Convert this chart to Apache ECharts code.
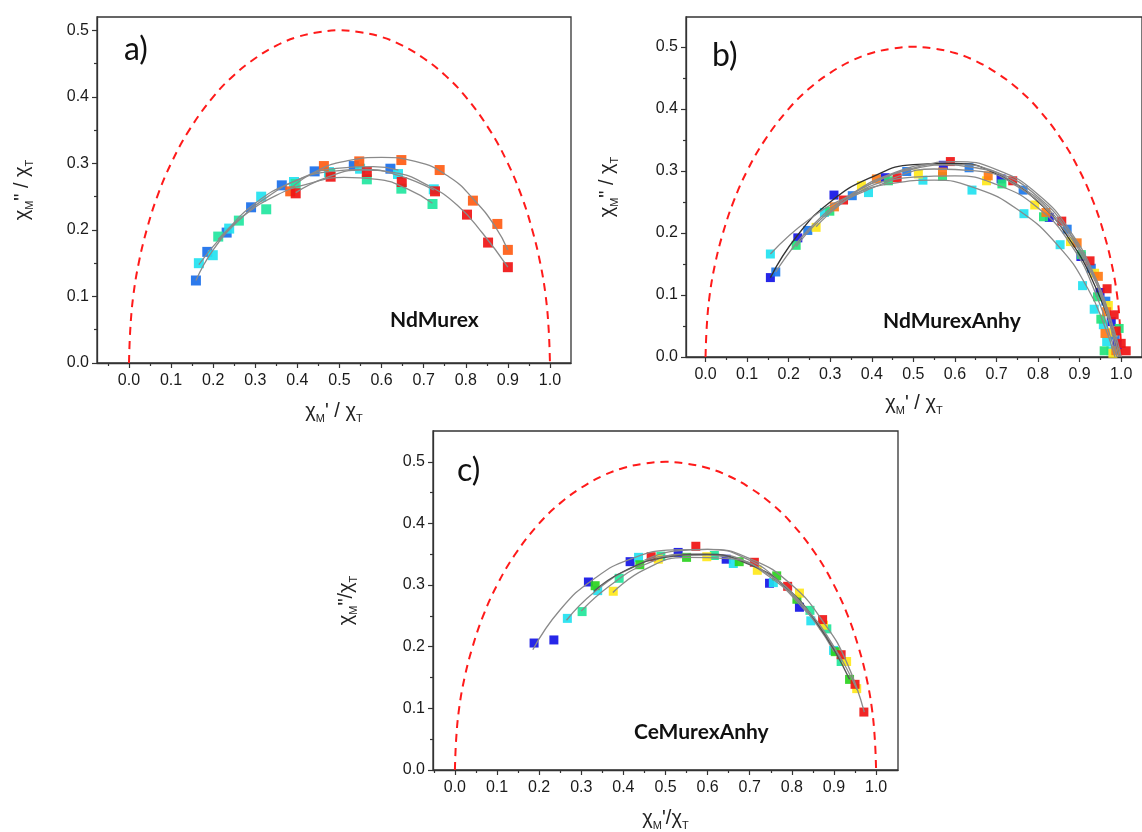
<!DOCTYPE html>
<html><head><meta charset="utf-8">
<script src="https://cdn.jsdelivr.net/npm/echarts@6/dist/echarts.min.js"></script>
<style>html,body{margin:0;padding:0;background:#fff}#c{width:1142px;height:832px}</style>
</head><body><div id="c"></div>
<script>
// ---- tick values / labels ----
const xTickValues = [0, 0.1, 0.2, 0.3, 0.4, 0.5, 0.6, 0.7, 0.8, 0.9, 1.0];
const xTickLabels = ['0.0','0.1','0.2','0.3','0.4','0.5','0.6','0.7','0.8','0.9','1.0'];
const xMinorValues = [-0.05, 0.05, 0.15, 0.25, 0.35, 0.45, 0.55, 0.65, 0.75, 0.85, 0.95];
const yTickValues = [0, 0.1, 0.2, 0.3, 0.4, 0.5];
const yTickLabels = ['0.0','0.1','0.2','0.3','0.4','0.5'];
const yMinorValues = [0.05, 0.15, 0.25, 0.35, 0.45];

// ---- ideal Debye semicircle (red dashed) ----
const debyeArc = [[0,0],[0.003,0.05],[0.01,0.1],[0.023,0.15],[0.042,0.2],[0.067,0.25],[0.1,0.3],[0.143,0.35],[0.2,0.4],[0.25,0.433],[0.3,0.458],[0.35,0.477],[0.4,0.49],[0.45,0.497],[0.5,0.5],[0.55,0.497],[0.6,0.49],[0.65,0.477],[0.7,0.458],[0.75,0.433],[0.8,0.4],[0.857,0.35],[0.9,0.3],[0.933,0.25],[0.958,0.2],[0.977,0.15],[0.99,0.1],[0.997,0.05],[1,0]];

// ---- panel a) NdMurex ----
const aBlue   = [[0.159,0.124],[0.186,0.167],[0.232,0.196],[0.290,0.234],[0.363,0.267],[0.441,0.288],[0.534,0.296],[0.621,0.292]];
const aCyan   = [[0.166,0.150],[0.199,0.162],[0.238,0.202],[0.314,0.250],[0.392,0.272],[0.475,0.287],[0.549,0.292],[0.639,0.284],[0.724,0.261]];
const aTeal   = [[0.212,0.190],[0.261,0.214],[0.326,0.231],[0.396,0.269],[0.478,0.284],[0.565,0.276],[0.647,0.262],[0.721,0.239]];
const aOrange = [[0.383,0.258],[0.463,0.296],[0.547,0.303],[0.647,0.305],[0.738,0.290],[0.817,0.244],[0.875,0.209],[0.900,0.170]];
const aRed    = [[0.396,0.255],[0.479,0.280],[0.565,0.287],[0.648,0.272],[0.727,0.258],[0.803,0.223],[0.853,0.181],[0.900,0.144]];
const aFitBlue   = [[0.159,0.124],[0.2,0.17],[0.26,0.214],[0.33,0.25],[0.41,0.278],[0.5,0.293],[0.58,0.295],[0.64,0.29]];
const aFitCyan   = [[0.166,0.148],[0.22,0.19],[0.3,0.24],[0.39,0.272],[0.48,0.288],[0.56,0.291],[0.64,0.282],[0.724,0.26]];
const aFitTeal   = [[0.212,0.186],[0.27,0.22],[0.35,0.252],[0.43,0.27],[0.51,0.279],[0.59,0.276],[0.66,0.262],[0.721,0.24]];
const aFitOrange = [[0.383,0.262],[0.45,0.29],[0.52,0.304],[0.6,0.309],[0.68,0.303],[0.76,0.28],[0.82,0.245],[0.87,0.205],[0.9,0.17]];
const aFitRed    = [[0.396,0.256],[0.47,0.279],[0.55,0.29],[0.63,0.286],[0.71,0.267],[0.78,0.237],[0.84,0.195],[0.9,0.144]];

// ---- panel b) NdMurexAnhy ----
const bDarkBlue  = [[0.156,0.128],[0.222,0.192],[0.309,0.261],[0.432,0.289],[0.572,0.309],[0.711,0.287],[0.827,0.225],[0.903,0.162],[0.949,0.104],[0.976,0.057],[0.99,0.02]];
const bLightBlue = [[0.169,0.137],[0.246,0.204],[0.353,0.260],[0.484,0.299],[0.634,0.305],[0.764,0.269],[0.870,0.206],[0.928,0.143],[0.963,0.090],[0.985,0.035]];
const bCyan      = [[0.156,0.166],[0.286,0.233],[0.392,0.265],[0.523,0.285],[0.641,0.269],[0.766,0.231],[0.853,0.181],[0.907,0.115],[0.935,0.077],[0.957,0.052],[0.965,0.025],[0.975,0.010]];
const bGreen     = [[0.218,0.180],[0.299,0.235],[0.440,0.284],[0.570,0.291],[0.713,0.279],[0.813,0.226],[0.904,0.165],[0.943,0.097],[0.951,0.061],[0.959,0.010],[0.995,0.046]];
const bYellow    = [[0.266,0.209],[0.375,0.276],[0.512,0.295],[0.676,0.284],[0.792,0.245],[0.878,0.186],[0.936,0.135],[0.969,0.083],[0.980,0.040],[0.980,0.006]];
const bOrange    = [[0.310,0.242],[0.411,0.287],[0.570,0.298],[0.680,0.292],[0.819,0.233],[0.894,0.184],[0.945,0.130],[0.965,0.073],[0.961,0.038],[0.987,0.010]];
const bRed       = [[0.332,0.253],[0.461,0.289],[0.589,0.315],[0.739,0.284],[0.857,0.219],[0.925,0.155],[0.966,0.110],[0.983,0.068],[0.988,0.042],[1.000,0.022],[1.012,0.010]];
const bFitDarkBlue  = [[0.156,0.128],[0.22,0.195],[0.3,0.25],[0.4,0.29],[0.5,0.31],[0.6,0.312],[0.7,0.295],[0.8,0.25],[0.88,0.185],[0.94,0.11],[0.98,0.04],[0.995,0.0]];
const bFitLightBlue = [[0.169,0.137],[0.25,0.207],[0.35,0.262],[0.45,0.296],[0.55,0.31],[0.65,0.305],[0.75,0.278],[0.85,0.22],[0.92,0.15],[0.965,0.08],[0.995,0.0]];
const bFitCyan      = [[0.156,0.166],[0.25,0.222],[0.35,0.26],[0.45,0.28],[0.55,0.285],[0.65,0.272],[0.75,0.238],[0.85,0.178],[0.92,0.11],[0.96,0.05],[0.985,0.0]];
const bFitGreen     = [[0.218,0.178],[0.3,0.235],[0.4,0.272],[0.5,0.29],[0.6,0.292],[0.7,0.278],[0.8,0.24],[0.88,0.18],[0.94,0.1],[0.98,0.02],[0.99,0.0]];
const bFitYellow    = [[0.266,0.21],[0.35,0.258],[0.45,0.288],[0.55,0.303],[0.65,0.3],[0.75,0.275],[0.85,0.215],[0.92,0.145],[0.965,0.07],[0.99,0.0]];
const bFitOrange    = [[0.31,0.243],[0.4,0.28],[0.5,0.303],[0.6,0.31],[0.7,0.298],[0.8,0.258],[0.88,0.195],[0.94,0.12],[0.98,0.04],[0.995,0.0]];
const bFitRed       = [[0.332,0.254],[0.42,0.286],[0.52,0.308],[0.6,0.315],[0.7,0.302],[0.8,0.262],[0.88,0.2],[0.94,0.125],[0.98,0.05],[1.0,0.0]];

// ---- panel c) CeMurexAnhy ----
const cBlue   = [[0.188,0.206],[0.235,0.211],[0.317,0.305],[0.416,0.338],[0.530,0.353],[0.644,0.342],[0.747,0.303],[0.818,0.264]];
const cCyan   = [[0.267,0.246],[0.339,0.291],[0.436,0.345],[0.661,0.335],[0.756,0.304],[0.845,0.242],[0.899,0.194]];
const cTeal   = [[0.302,0.257],[0.390,0.311],[0.489,0.347],[0.616,0.348],[0.843,0.259],[0.883,0.229],[0.917,0.176]];
const cGreen  = [[0.333,0.299],[0.439,0.333],[0.550,0.345],[0.675,0.338],[0.764,0.315],[0.812,0.277],[0.903,0.192],[0.937,0.147]];
const cYellow = [[0.376,0.290],[0.483,0.342],[0.598,0.346],[0.718,0.324],[0.818,0.287],[0.875,0.235],[0.930,0.176],[0.954,0.132]];
const cRed    = [[0.466,0.346],[0.572,0.363],[0.711,0.337],[0.790,0.298],[0.873,0.244],[0.917,0.187],[0.950,0.139],[0.971,0.094]];
const cFitBlue   = [[0.185,0.195],[0.25,0.26],[0.33,0.31],[0.42,0.343],[0.52,0.357],[0.6,0.358],[0.7,0.34],[0.78,0.3],[0.818,0.272]];
const cFitCyan   = [[0.265,0.243],[0.33,0.288],[0.42,0.328],[0.52,0.348],[0.62,0.349],[0.72,0.327],[0.8,0.285],[0.86,0.235],[0.9,0.192]];
const cFitTeal   = [[0.3,0.258],[0.37,0.3],[0.45,0.333],[0.55,0.35],[0.65,0.345],[0.75,0.312],[0.83,0.26],[0.88,0.22],[0.917,0.177]];
const cFitGreen  = [[0.33,0.29],[0.4,0.322],[0.5,0.345],[0.6,0.35],[0.7,0.333],[0.78,0.3],[0.86,0.238],[0.937,0.147]];
const cFitYellow = [[0.375,0.288],[0.45,0.325],[0.55,0.345],[0.65,0.343],[0.75,0.315],[0.83,0.265],[0.9,0.2],[0.955,0.13]];
const cFitRed    = [[0.45,0.34],[0.52,0.355],[0.6,0.358],[0.7,0.343],[0.8,0.3],[0.88,0.235],[0.93,0.175],[0.972,0.094]];

// ---- build ----
const AX = '#333';
const panels = [
  {grid:{left:97, top:17, width:474, height:346}, xmin:-0.076, xmax:1.05, ymax:0.52, sym:10,
   xName:'{c|χ}{s|M}{c|\' / χ}{s|T}', yName:'{c|χ}{s|M}{c|" / χ}{s|T}', xGap:35, yGap:62},
  {grid:{left:686, top:17, width:463, height:340}, xmin:-0.047, xmax:1.05, ymax:0.548, sym:9,
   xName:'{c|χ}{s|M}{c|\' / χ}{s|T}', yName:'{c|χ}{s|M}{c|" / χ}{s|T}', xGap:33, yGap:66},
  {grid:{left:433, top:431, width:465, height:341}, xmin:-0.052, xmax:1.052, ymax:0.55, sym:9,
   xName:'{c|χ}{s|M}{c|\'/χ}{s|T}', yName:'{c|χ}{s|M}{c|"/χ}{s|T}', xGap:35, yGap:74}
];
const rich = {
  c:{fontSize:20, fontFamily:'Liberation Sans', color:'#222', lineHeight:26},
  s:{fontSize:11, fontFamily:'Liberation Sans', color:'#222', verticalAlign:'bottom', lineHeight:26}
};
const grids = [], xAxes = [], yAxes = [];
panels.forEach((p, i) => {
  grids.push(Object.assign({show:true, borderColor:AX, borderWidth:1.3, backgroundColor:'#fff'}, p.grid));
  const xmin = xMinorValues.filter(v => v > p.xmin && v < p.xmax);
  xAxes.push({type:'value', gridIndex:i, min:p.xmin, max:p.xmax, position:'bottom',
    axisLine:{onZero:false, lineStyle:{color:AX, width:1.3}},
    axisTick:{customValues:xTickValues, length:5, lineStyle:{color:AX, width:1.2}},
    axisLabel:{customValues:xTickValues, formatter:v => xTickLabels[Math.round(v*10)], fontSize:16, fontFamily:'Liberation Sans', color:'#1a1a1a', margin:10},
    splitLine:{show:false},
    name:p.xName, nameLocation:'middle', nameGap:p.xGap, nameTextStyle:{rich:rich}});
  xAxes.push({type:'value', gridIndex:i, min:p.xmin, max:p.xmax, position:'bottom',
    axisLine:{show:false, onZero:false},
    axisTick:{customValues:xmin, length:3, lineStyle:{color:AX, width:1.2}},
    axisLabel:{show:false}, splitLine:{show:false}});
  yAxes.push({type:'value', gridIndex:i, min:0, max:p.ymax, position:'left',
    axisLine:{onZero:false, lineStyle:{color:AX, width:1.3}},
    axisTick:{customValues:yTickValues, length:5, lineStyle:{color:AX, width:1.2}},
    axisLabel:{customValues:yTickValues, formatter:v => yTickLabels[Math.round(v*10)], fontSize:16, fontFamily:'Liberation Sans', color:'#1a1a1a', margin:8},
    splitLine:{show:false},
    name:p.yName, nameLocation:'middle', nameGap:p.yGap, nameRotate:90, nameTextStyle:{rich:rich}});
  yAxes.push({type:'value', gridIndex:i, min:0, max:p.ymax, position:'left',
    axisLine:{show:false, onZero:false},
    axisTick:{customValues:yMinorValues, length:3, lineStyle:{color:AX, width:1.2}},
    axisLabel:{show:false}, splitLine:{show:false}});
});

const series = [];
function arc(gi){
  series.push({type:'line', xAxisIndex:2*gi, yAxisIndex:2*gi, data:debyeArc, smooth:0.4, symbol:'none',
    lineStyle:{color:'#ff1a1a', width:2, type:[8,6]}, z:2, silent:true});
}
function pts(gi, data, color){
  series.push({type:'scatter', xAxisIndex:2*gi, yAxisIndex:2*gi, data:data, symbol:'rect', symbolSize:panels[gi].sym,
    itemStyle:{color:color, opacity:0.92}, z:3});
}
function fit(gi, data, color){
  series.push({type:'line', xAxisIndex:2*gi, yAxisIndex:2*gi, data:data, smooth:0.5, symbol:'none',
    lineStyle:{color:color||'#8a8a8a', width:1.3}, z:4, silent:true});
}
arc(0); arc(1); arc(2);
pts(0,aBlue,'#1a6fea'); pts(0,aCyan,'#22e2f0'); pts(0,aTeal,'#22e6a0'); pts(0,aOrange,'#ff5c14'); pts(0,aRed,'#f01414');
fit(0,aFitBlue); fit(0,aFitCyan); fit(0,aFitTeal); fit(0,aFitOrange); fit(0,aFitRed);
pts(1,bDarkBlue,'#1414e6'); pts(1,bLightBlue,'#1a78ee'); pts(1,bCyan,'#22e2f0'); pts(1,bGreen,'#22e47a');
pts(1,bYellow,'#ffe81a'); pts(1,bOrange,'#ff7a14'); pts(1,bRed,'#f01414');
fit(1,bFitDarkBlue,'#333'); fit(1,bFitLightBlue); fit(1,bFitCyan); fit(1,bFitGreen); fit(1,bFitYellow); fit(1,bFitOrange); fit(1,bFitRed);
pts(2,cBlue,'#1414e6'); pts(2,cCyan,'#22e2f0'); pts(2,cTeal,'#22e69a'); pts(2,cGreen,'#2ad21e'); pts(2,cYellow,'#ffe81a'); pts(2,cRed,'#f01414');
fit(2,cFitBlue); fit(2,cFitCyan); fit(2,cFitTeal); fit(2,cFitGreen,'#555'); fit(2,cFitYellow); fit(2,cFitRed);

const lblFont = '"Lato", "Open Sans", sans-serif';
const chart = echarts.init(document.getElementById('c'), null, {renderer:'canvas'});
chart.setOption({
  backgroundColor:'#fff',
  animation:false,
  grid:grids, xAxis:xAxes, yAxis:yAxes, series:series,
  graphic:[
    {type:'text', left:124, top:34, style:{text:'a)', font:'32px ' + lblFont, fill:'#111'}, z:10},
    {type:'text', left:712, top:40, style:{text:'b)', font:'32px ' + lblFont, fill:'#111'}, z:10},
    {type:'text', left:457, top:455, style:{text:'c)', font:'32px ' + lblFont, fill:'#111'}, z:10},
    {type:'text', left:390, top:310, style:{text:'NdMurex', font:'bold 21px ' + lblFont, fill:'#111'}, z:10},
    {type:'text', left:883, top:311, style:{text:'NdMurexAnhy', font:'bold 21px ' + lblFont, fill:'#111'}, z:10},
    {type:'text', left:634, top:722, style:{text:'CeMurexAnhy', font:'bold 21px ' + lblFont, fill:'#111'}, z:10}
  ]
});
</script></body></html>
